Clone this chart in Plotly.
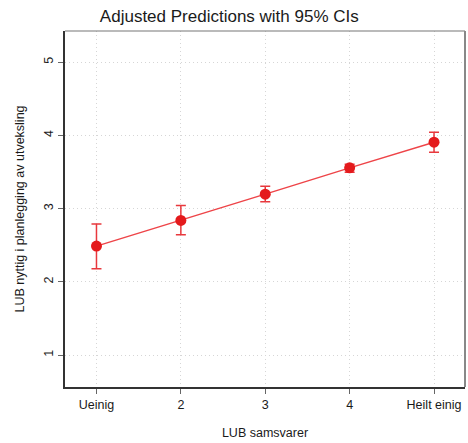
import plotly.graph_objects as go

# Predicted margins by agreement level
categories = ["Ueinig", "2", "3", "4", "Heilt einig"]
levels = [1, 2, 3, 4, 5]
predicted = [2.488, 2.839, 3.198, 3.557, 3.908]
ci_upper = [2.79, 3.044, 3.307, 3.607, 4.044]
ci_lower = [2.18, 2.642, 3.093, 3.498, 3.771]

y_ticks = [1, 2, 3, 4, 5]

err_plus = [u - p for u, p in zip(ci_upper, predicted)]
err_minus = [p - l for p, l in zip(predicted, ci_lower)]

red = "#e41a1c"
text_col = "#1a1a1a"
font_family = "Liberation Sans, Arial, sans-serif"
grid_col = "#d6d6d6"

fig = go.Figure()
fig.add_trace(go.Scatter(
    x=levels,
    y=predicted,
    mode="lines+markers",
    line=dict(color="#ee4448", width=1.5),
    marker=dict(color=red, size=11),
    error_y=dict(
        type="data",
        symmetric=False,
        array=err_plus,
        arrayminus=err_minus,
        color="#e8383d",
        thickness=1.5,
        width=5,
    ),
    showlegend=False,
))

fig.update_layout(
    width=468,
    height=443,
    margin=dict(l=64.5, r=3, t=31, b=56),
    paper_bgcolor="white",
    plot_bgcolor="white",
    font=dict(family=font_family, color=text_col, size=12.5),
    title=dict(
        text="Adjusted Predictions with 95% CIs",
        x=0.49,
        xanchor="center",
        y=0.977,
        yanchor="top",
        font=dict(size=17, color=text_col),
    ),
    xaxis=dict(
        range=[0.627, 5.367],
        tickvals=levels,
        ticktext=categories,
        ticks="outside",
        ticklen=5,
        tickcolor="#666",
        showgrid=True,
        gridcolor=grid_col,
        griddash="1px,3px",
        gridwidth=1,
        zeroline=False,
        showline=True,
        linecolor="#333",
        linewidth=1.5,
        mirror=False,
        tickfont=dict(size=12.5, color=text_col),
        title=dict(text="LUB samsvarer", font=dict(size=12.5, color=text_col), standoff=17),
    ),
    yaxis=dict(
        range=[0.563, 5.427],
        tickvals=y_ticks,
        ticks="outside",
        ticklen=5,
        tickcolor="#666",
        tickangle=-90,
        showgrid=True,
        gridcolor=grid_col,
        griddash="1px,3px",
        gridwidth=1,
        zeroline=False,
        showline=True,
        linecolor="#333",
        linewidth=1.5,
        mirror=False,
        tickfont=dict(size=12.5, color=text_col),
        title=dict(text="LUB nyttig i planlegging av utveksling", font=dict(size=12.5, color=text_col), standoff=15),
    ),
)

# top and right frame edges in lighter grey
fig.add_shape(type="line", xref="paper", yref="paper", x0=0, x1=1, y0=1, y1=1,
              line=dict(color="#777", width=1.2))
fig.add_shape(type="line", xref="paper", yref="paper", x0=1, x1=1, y0=0, y1=1,
              line=dict(color="#888", width=2))

fig.write_html("out.html")
